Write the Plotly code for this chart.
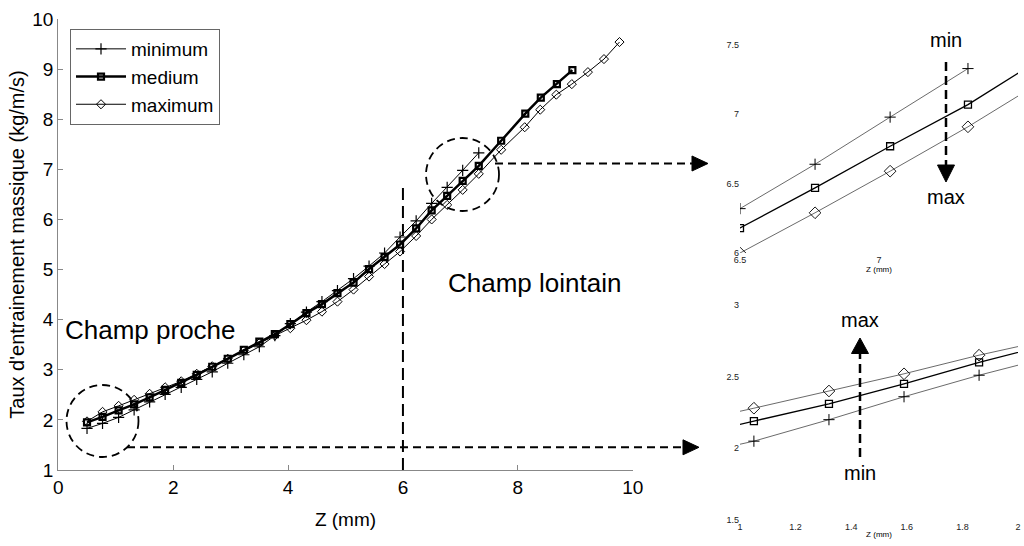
import plotly.graph_objects as go

# ---------------- data ----------------
x_min = [0.5, 0.77, 1.05, 1.32, 1.59, 1.86, 2.14, 2.41, 2.68, 2.95, 3.23, 3.5, 3.77,
         4.04, 4.32, 4.59, 4.86, 5.14, 5.41, 5.68, 5.95, 6.23, 6.5, 6.77, 7.04, 7.32]
y_min = [1.83, 1.93, 2.05, 2.20, 2.36, 2.51, 2.65, 2.81, 2.96, 3.13, 3.30, 3.46, 3.68,
         3.92, 4.15, 4.36, 4.58, 4.82, 5.07, 5.33, 5.65, 5.97, 6.32, 6.64, 6.98, 7.33]

x_med = [0.5, 0.77, 1.05, 1.32, 1.59, 1.86, 2.14, 2.41, 2.68, 2.95, 3.23, 3.5, 3.77,
         4.04, 4.32, 4.59, 4.86, 5.14, 5.41, 5.68, 5.95, 6.23, 6.5, 6.77, 7.04, 7.32,
         7.71, 8.13, 8.4, 8.68, 8.95]
y_med = [1.95, 2.06, 2.19, 2.31, 2.45, 2.60, 2.74, 2.90, 3.06, 3.22, 3.40, 3.56, 3.71,
         3.91, 4.13, 4.31, 4.53, 4.74, 5.01, 5.25, 5.50, 5.82, 6.18, 6.47, 6.77, 7.07,
         7.57, 8.11, 8.43, 8.70, 8.98]

x_max = [0.5, 0.77, 1.05, 1.32, 1.59, 1.86, 2.14, 2.41, 2.68, 2.95, 3.23, 3.5, 3.77,
         4.04, 4.32, 4.59, 4.86, 5.14, 5.41, 5.68, 5.95, 6.23, 6.5, 6.77, 7.04, 7.32,
         7.71, 8.12, 8.39, 8.67, 8.94, 9.22, 9.5, 9.77]
y_max = [1.97, 2.16, 2.28, 2.40, 2.52, 2.65, 2.77, 2.92, 3.07, 3.22, 3.38, 3.53, 3.68,
         3.83, 3.99, 4.16, 4.36, 4.60, 4.86, 5.11, 5.36, 5.67, 6.00, 6.29, 6.59, 6.91,
         7.39, 7.84, 8.19, 8.49, 8.70, 8.94, 9.20, 9.54]

series_names = ["minimum", "medium", "maximum"]

main_xticks = [0, 2, 4, 6, 8, 10]
main_yticks = [1, 2, 3, 4, 5, 6, 7, 8, 9, 10]
top_xticks = [6.5, 7, 7.5]
top_yticks = [6, 6.5, 7, 7.5]
bot_xticks = [1, 1.2, 1.4, 1.6, 1.8, 2]
bot_yticks = [1.5, 2, 2.5, 3]

W, H = 1024, 546
FONT = "Liberation Sans, Arial, sans-serif"


def px(x):
    return x / W


def py(y):
    return 1 - y / H


fig = go.Figure()

styles = [
    dict(line=dict(color="black", width=1),
         marker=dict(symbol="cross-thin", size=8, line=dict(color="black", width=1.2))),
    dict(line=dict(color="black", width=2.5),
         marker=dict(symbol="square-open", size=6, color="black", line=dict(color="black", width=2.2))),
    dict(line=dict(color="black", width=1),
         marker=dict(symbol="diamond-open", size=7, color="black", line=dict(color="black", width=1))),
]
inset_styles = [
    dict(line=dict(color="#444", width=0.8),
         marker=dict(symbol="cross-thin", size=8, line=dict(color="black", width=1))),
    dict(line=dict(color="black", width=1.3),
         marker=dict(symbol="square-open", size=7, color="black", line=dict(color="black", width=1.3))),
    dict(line=dict(color="#444", width=0.8),
         marker=dict(symbol="diamond-open", size=9, color="black", line=dict(color="black", width=0.9))),
]
data = [(x_min, y_min), (x_med, y_med), (x_max, y_max)]

for (xs, ys), name, st in zip(data, series_names, styles):
    fig.add_trace(go.Scatter(x=xs, y=ys, name=name, mode="lines+markers",
                             xaxis="x", yaxis="y", **st))
for ax in ["2", "3"]:
    for (xs, ys), name, st in zip(data, series_names, inset_styles):
        fig.add_trace(go.Scatter(x=xs, y=ys, name=name, mode="lines+markers", showlegend=False,
                                 xaxis="x" + ax, yaxis="y" + ax, cliponaxis=True, **st))

axis_gray = "#888888"
tickfont = dict(family=FONT, size=19, color="black")
inset_tickfont = dict(family=FONT, size=9, color="#222")

shapes = []
dash_h = "8px,5px"
# vertical separation line at Z = 6
shapes.append(dict(type="line", xref="x", yref="y", x0=6, x1=6, y0=1, y1=6.73,
                   line=dict(color="black", width=2, dash="12px,6px")))
# circles
for cx, cy, r in [(102.5, 421, 36), (462.5, 174.5, 36.5)]:
    shapes.append(dict(type="circle", xref="paper", yref="paper",
                       x0=px(cx - r), x1=px(cx + r), y0=py(cy + r), y1=py(cy - r),
                       line=dict(color="black", width=1.8, dash="8px,5px")))
# horizontal dashed arrows
for x0, x1, yy in [(127, 684, 447.3), (495, 693, 163.5)]:
    shapes.append(dict(type="line", xref="paper", yref="paper", x0=px(x0), x1=px(x1),
                       y0=py(yy), y1=py(yy), line=dict(color="black", width=2, dash=dash_h)))
    pth = "M {:.5f} {:.5f} L {:.5f} {:.5f} L {:.5f} {:.5f} Z".format(
        px(x1 - 1), py(yy - 7.5), px(x1 + 15), py(yy), px(x1 - 1), py(yy + 7.5))
    shapes.append(dict(type="path", xref="paper", yref="paper", path=pth,
                       fillcolor="black", line=dict(color="black", width=1)))
# vertical arrows in insets
shapes.append(dict(type="line", xref="paper", yref="paper", x0=px(946), x1=px(946),
                   y0=py(62), y1=py(165), line=dict(color="black", width=2.5, dash="9px,5px")))
shapes.append(dict(type="path", xref="paper", yref="paper",
                   path="M {:.5f} {:.5f} L {:.5f} {:.5f} L {:.5f} {:.5f} Z".format(
                       px(937.5), py(165), px(954.5), py(165), px(946), py(182)),
                   fillcolor="black", line=dict(color="black", width=1)))
shapes.append(dict(type="line", xref="paper", yref="paper", x0=px(860), x1=px(860),
                   y0=py(457), y1=py(353), line=dict(color="black", width=2.5, dash="9px,5px")))
shapes.append(dict(type="path", xref="paper", yref="paper",
                   path="M {:.5f} {:.5f} L {:.5f} {:.5f} L {:.5f} {:.5f} Z".format(
                       px(851.5), py(353.5), px(868.5), py(353.5), px(860), py(338)),
                   fillcolor="black", line=dict(color="black", width=1)))


def label(text, x, y, size):
    return dict(text=text, x=px(x), y=py(y), xref="paper", yref="paper",
                xanchor="center", yanchor="middle", showarrow=False,
                font=dict(family=FONT, size=size, color="black"))


annotations = [
    label("Champ proche", 150, 330, 26),
    label("Champ lointain", 534.5, 283, 26),
    label("min", 946, 40, 20),
    label("max", 946, 197, 20),
    label("max", 860, 320, 20),
    label("min", 860, 473, 20),
]

fig.update_layout(
    width=W, height=H, autosize=False,
    template="none",
    paper_bgcolor="white", plot_bgcolor="white",
    margin=dict(l=0, r=0, t=0, b=0),
    font=dict(family=FONT, color="black"),
    xaxis=dict(domain=[px(58.3), px(632.7)], range=[0, 10], tickvals=main_xticks,
               showline=True, linecolor=axis_gray, linewidth=1.2, ticks="inside",
               ticklen=5, tickcolor=axis_gray, showgrid=False, zeroline=False,
               tickfont=tickfont, mirror=False, automargin=False,
               title=dict(text="Z (mm)", font=dict(family=FONT, size=19), standoff=15)),
    yaxis=dict(domain=[py(470), py(19)], range=[1, 10], tickvals=main_yticks,
               showline=True, linecolor=axis_gray, linewidth=1.2, ticks="inside",
               ticklen=5, tickcolor=axis_gray, showgrid=False, zeroline=False,
               tickfont=tickfont, automargin=False,
               title=dict(text="Taux d'entrainement massique (kg/m/s)",
                          font=dict(family=FONT, size=20), standoff=2)),
    xaxis2=dict(domain=[px(740), px(1018)], range=[6.5, 7.5], tickvals=top_xticks,
                anchor="y2", showline=False, showgrid=False, zeroline=False,
                ticks="", tickfont=inset_tickfont, automargin=False,
                title=dict(text="Z (mm)", font=dict(family=FONT, size=8), standoff=0)),
    yaxis2=dict(domain=[py(253), py(45)], range=[6, 7.5], tickvals=top_yticks,
                anchor="x2", showline=False, showgrid=False, zeroline=False,
                ticks="", tickfont=inset_tickfont, automargin=False),
    xaxis3=dict(domain=[px(740), px(1018)], range=[1, 2], tickvals=bot_xticks,
                anchor="y3", showline=False, showgrid=False, zeroline=False,
                ticks="", tickfont=inset_tickfont, automargin=False,
                title=dict(text="Z (mm)", font=dict(family=FONT, size=8), standoff=0)),
    yaxis3=dict(domain=[py(520), py(305)], range=[1.5, 3], tickvals=bot_yticks,
                anchor="x3", showline=False, showgrid=False, zeroline=False,
                ticks="", tickfont=inset_tickfont, automargin=False),
    legend=dict(x=px(70), y=py(29), xanchor="left", yanchor="top",
                bgcolor="white", bordercolor="#666", borderwidth=1,
                font=dict(family=FONT, size=19, color="black"),
                tracegroupgap=0, itemwidth=50),
    showlegend=True,
    shapes=shapes,
    annotations=annotations,
)

fig.write_html("out.html", config={"displayModeBar": False},
               post_script="document.body.style.margin='0px';document.body.style.overflow='hidden';")
